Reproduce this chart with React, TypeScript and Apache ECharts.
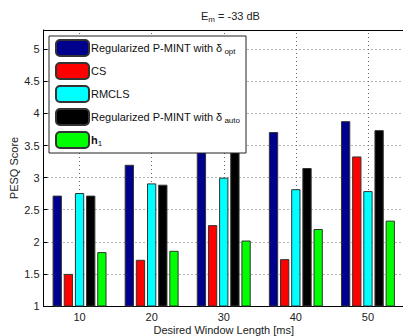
import React, { useEffect, useRef } from "react";
import * as echarts from "echarts";

const categories = ["10", "20", "30", "40", "50"];
const pmintOpt = [2.72, 3.2, 3.44, 3.71, 3.88];
const cs = [1.5, 1.72, 2.26, 1.73, 3.33];
const rmcls = [2.76, 2.91, 3.0, 2.82, 2.79];
const pmintAuto = [2.72, 2.89, 3.44, 3.15, 3.74];
const h1 = [1.84, 1.86, 2.02, 2.2, 2.33];
const seriesNames = ["optS", "CS", "RMCLS", "autoS", "h1"];
const legendLabels: Record<string, string> = {
  optS: "Regularized P-MINT with δ{sub|opt}",
  CS: "CS",
  RMCLS: "RMCLS",
  autoS: "Regularized P-MINT with δ{sub|auto}",
  h1: "{b|h}{sub1|1}",
};
const colors = ["#00008f", "#ff0000", "#00ffff", "#000000", "#00ff00"];

const FONT = "'Liberation Sans', Arial, sans-serif";

export default function App() {
  const ref = useRef<HTMLDivElement>(null);
  useEffect(() => {
    if (!ref.current) return;
    const chart = echarts.init(ref.current, undefined, { renderer: "svg" });
    const values = [pmintOpt, cs, rmcls, pmintAuto, h1];
    const barSeries = values.map((v, i) => ({
      name: seriesNames[i],
      type: "bar",
      data: v,
      barWidth: 9.3,
      barGap: "20%",
      z: 2,
      itemStyle: { color: colors[i], borderColor: "#333", borderWidth: 1 },
    }));
    const option: any = {
      animation: false,
      backgroundColor: "#fff",
      textStyle: { fontFamily: FONT },
      title: {
        text: "{a|E}{s|m}{a| = -33 dB}",
        left: 201,
        top: 8,
        padding: 0,
        textStyle: {
          fontWeight: "normal",
          rich: {
            a: { fontFamily: FONT, fontSize: 11, fontWeight: "normal", color: "#222" },
            s: { fontFamily: FONT, fontSize: 8, fontWeight: "normal", color: "#222", padding: [7, 0, 0, 0] },
          },
        },
      },
      grid: { left: 43.5, top: 30, right: -1, bottom: 30, outerBoundsMode: "none", containLabel: false },
      legend: {
        orient: "vertical",
        left: 49,
        top: 36,
        data: seriesNames,
        itemWidth: 33,
        itemHeight: 16,
        itemGap: 5,
        padding: [3, 6, 4, 6],
        borderColor: "#222",
        borderWidth: 1,
        backgroundColor: "#fff",
        formatter: (name: string) => legendLabels[name],
        textStyle: {
          fontFamily: FONT,
          fontSize: 11,
          color: "#111",
          padding: [0, 0, 0, -3],
          rich: {
            sub: { fontFamily: FONT, fontSize: 8, color: "#111", padding: [7, 0, 0, 2] },
            sub1: { fontFamily: FONT, fontSize: 8, color: "#111", padding: [7, 0, 0, 0] },
            b: { fontFamily: FONT, fontSize: 11, fontWeight: "bold", color: "#111" },
          },
        },
      },
      xAxis: [
        {
          type: "category",
          data: categories,
          position: "bottom",
          name: "Desired Window Length [ms]",
          nameLocation: "middle",
          nameGap: 18,
          nameMoveOverlap: false,
          nameTextStyle: { fontFamily: FONT, fontSize: 11, color: "#222" },
          axisLine: { lineStyle: { color: "#000", width: 1 } },
          axisTick: { inside: true, alignWithLabel: true, length: 4, lineStyle: { color: "#000" } },
          axisLabel: { fontFamily: FONT, fontSize: 11, color: "#222", margin: 5 },
          splitLine: { show: false },
        },
        {
          type: "category",
          data: categories,
          position: "top",
          axisLine: { lineStyle: { color: "#000", width: 1 } },
          axisTick: { inside: true, alignWithLabel: true, length: 4, lineStyle: { color: "#000" } },
          axisLabel: { show: false },
          splitLine: { show: false },
        },
      ],
      yAxis: {
        type: "value",
        min: 1,
        max: 5.3,
        interval: 0.5,
        name: "PESQ Score",
        nameLocation: "middle",
        nameGap: 24,
        nameMoveOverlap: false,
        nameTextStyle: { fontFamily: FONT, fontSize: 11, color: "#222" },
        axisLine: { show: true, lineStyle: { color: "#000", width: 1 } },
        axisTick: { show: true, inside: true, length: 4, lineStyle: { color: "#000" } },
        axisLabel: { fontFamily: FONT, fontSize: 11, color: "#222", margin: 4, showMaxLabel: false },
        splitLine: { show: true, lineStyle: { color: "#666", type: [1, 3], width: 1 } },
      },
      series: [
        ...barSeries,
        {
          name: "grid",
          type: "line",
          data: [],
          z: 1,
          markLine: {
            silent: true,
            symbol: "none",
            z: 1,
            label: { show: false },
            lineStyle: { color: "#666", type: [1, 3], width: 1 },
            data: categories.map((c) => ({ xAxis: c })),
          },
        },
      ],
    };
    chart.setOption(option);
    return () => chart.dispose();
  }, []);
  return <div ref={ref} style={{ width: 403, height: 336, position: "absolute", left: 0, top: 0 }} />;
}
